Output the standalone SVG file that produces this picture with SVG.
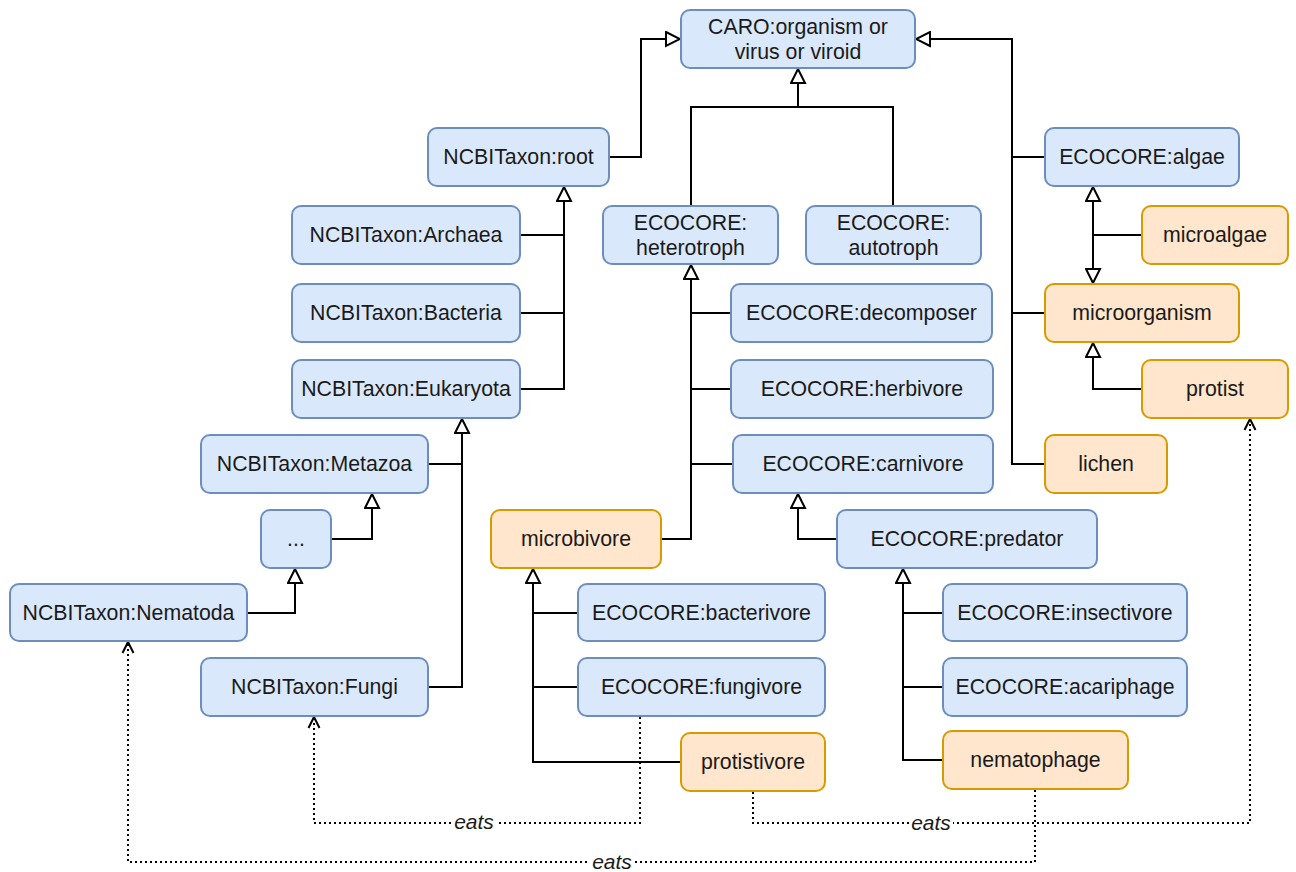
<svg xmlns="http://www.w3.org/2000/svg" width="1296" height="872" viewBox="0 0 1296 872">
<style>
.b{fill:#dae8fc;stroke:#6c8ebf;stroke-width:2}
.o{fill:#ffe6cc;stroke:#d79b00;stroke-width:2}
text{font-family:"Liberation Sans",Arial,sans-serif;font-size:21.3px;fill:#1a1a1a;text-anchor:middle}
.e{fill:none;stroke:#000;stroke-width:2}
.d{fill:none;stroke:#000;stroke-width:2;stroke-dasharray:2 3}
.lb{font-style:italic;font-size:21px}
</style>
<defs>
<marker id="tri" viewBox="0 0 17 17" refX="16" refY="8.5" markerWidth="17" markerHeight="17" markerUnits="userSpaceOnUse" orient="auto">
<path d="M2,1.5 L16,8.5 L2,15.5 Z" fill="#fff" stroke="#000" stroke-width="2"/>
</marker>
<marker id="opn" viewBox="0 0 14 14" refX="13" refY="7" markerWidth="14" markerHeight="14" markerUnits="userSpaceOnUse" orient="auto">
<path d="M2,1.5 L13,7 L2,12.5" fill="none" stroke="#000" stroke-width="2"/>
</marker>
</defs>
<g id="connectors">
<polyline class="e" points="609,157 641,157 641,39 680,39" marker-end="url(#tri)"/>
<polyline class="e" points="1045,157 1012,157 1012,39 916,39" marker-end="url(#tri)"/>
<polyline class="e" points="1045,313 1012,313 1012,157"/>
<polyline class="e" points="1045,464 1012,464 1012,313"/>
<polyline class="e" points="691,206 691,107 893,107 893,206"/>
<polyline class="e" points="798,107 798,69" marker-end="url(#tri)"/>
<polyline class="e" points="520,235 564,235 564,187" marker-end="url(#tri)"/>
<polyline class="e" points="520,313 564,313 564,235"/>
<polyline class="e" points="520,389 564,389 564,313"/>
<polyline class="e" points="428,464 462,464 462,419" marker-end="url(#tri)"/>
<polyline class="e" points="428,687 462,687 462,464"/>
<polyline class="e" points="331,539 372,539 372,494" marker-end="url(#tri)"/>
<polyline class="e" points="247,613 295,613 295,569" marker-end="url(#tri)"/>
<polyline class="e" points="731,313 691,313 691,265" marker-end="url(#tri)"/>
<polyline class="e" points="731,389 691,389 691,313"/>
<polyline class="e" points="733,464 691,464 691,389"/>
<polyline class="e" points="661,539 691,539 691,464"/>
<polyline class="e" points="837,539 798,539 798,494" marker-end="url(#tri)"/>
<polyline class="e" points="578,613 533,613 533,569" marker-end="url(#tri)"/>
<polyline class="e" points="578,687 533,687 533,613"/>
<polyline class="e" points="681,762 533,762 533,687"/>
<polyline class="e" points="943,613 903,613 903,569" marker-end="url(#tri)"/>
<polyline class="e" points="943,687 903,687 903,613"/>
<polyline class="e" points="943,760 903,760 903,687"/>
<polyline class="e" points="1142,235 1093,235 1093,187" marker-end="url(#tri)"/>
<polyline class="e" points="1093,235 1093,283" marker-end="url(#tri)"/>
<polyline class="e" points="1142,389 1093,389 1093,343" marker-end="url(#tri)"/>
<polyline class="d" points="640,717 640,823 314,823 314,717" marker-end="url(#opn)"/>
<polyline class="d" points="753,792 753,823 1250,823 1250,419" marker-end="url(#opn)"/>
<polyline class="d" points="1035,790 1035,862 128,862 128,642" marker-end="url(#opn)"/>
<rect x="452" y="812" width="44" height="20" fill="#fff"/>
<text class="lb" x="474" y="829">eats</text>
<rect x="909" y="812" width="44" height="20" fill="#fff"/>
<text class="lb" x="931" y="830">eats</text>
<rect x="590" y="851" width="44" height="20" fill="#fff"/>
<text class="lb" x="612" y="869">eats</text>
</g>
<g id="caro"><rect class="b" x="681" y="10" width="234" height="58" rx="9"/><text x="798" y="34">CARO:organism or</text><text x="798" y="59">virus or viroid</text></g>
<g id="root"><rect class="b" x="428" y="128" width="181" height="58" rx="9"/><text x="518.5" y="164">NCBITaxon:root</text></g>
<g id="archaea"><rect class="b" x="292" y="206" width="228" height="58" rx="9"/><text x="406" y="242">NCBITaxon:Archaea</text></g>
<g id="bacteria"><rect class="b" x="292" y="284" width="228" height="58" rx="9"/><text x="406" y="320">NCBITaxon:Bacteria</text></g>
<g id="eukaryota"><rect class="b" x="292" y="360" width="228" height="58" rx="9"/><text x="406" y="396">NCBITaxon:Eukaryota</text></g>
<g id="metazoa"><rect class="b" x="201" y="435" width="227" height="58" rx="9"/><text x="314.5" y="471">NCBITaxon:Metazoa</text></g>
<g id="dots"><rect class="b" x="261" y="510" width="70" height="58" rx="9"/><text x="296" y="546">...</text></g>
<g id="nematoda"><rect class="b" x="10" y="584" width="237" height="57" rx="9"/><text x="128.5" y="620">NCBITaxon:Nematoda</text></g>
<g id="fungi"><rect class="b" x="201" y="658" width="227" height="58" rx="9"/><text x="314.5" y="694">NCBITaxon:Fungi</text></g>
<g id="heterotroph"><rect class="b" x="603" y="206" width="175" height="58" rx="9"/><text x="690.5" y="230">ECOCORE:</text><text x="690.5" y="255">heterotroph</text></g>
<g id="autotroph"><rect class="b" x="806" y="206" width="175" height="58" rx="9"/><text x="893.5" y="230">ECOCORE:</text><text x="893.5" y="255">autotroph</text></g>
<g id="decomposer"><rect class="b" x="731" y="284" width="261" height="58" rx="9"/><text x="861.5" y="320">ECOCORE:decomposer</text></g>
<g id="herbivore"><rect class="b" x="731" y="360" width="262" height="58" rx="9"/><text x="862" y="396">ECOCORE:herbivore</text></g>
<g id="carnivore"><rect class="b" x="733" y="435" width="260" height="58" rx="9"/><text x="863" y="471">ECOCORE:carnivore</text></g>
<g id="microbivore"><rect class="o" x="491" y="510" width="170" height="58" rx="9"/><text x="576" y="546">microbivore</text></g>
<g id="predator"><rect class="b" x="837" y="510" width="260" height="58" rx="9"/><text x="967" y="546">ECOCORE:predator</text></g>
<g id="bacterivore"><rect class="b" x="578" y="584" width="247" height="57" rx="9"/><text x="701.5" y="620">ECOCORE:bacterivore</text></g>
<g id="fungivore"><rect class="b" x="578" y="658" width="247" height="58" rx="9"/><text x="701.5" y="694">ECOCORE:fungivore</text></g>
<g id="protistivore"><rect class="o" x="681" y="733" width="144" height="58" rx="9"/><text x="753" y="769">protistivore</text></g>
<g id="insectivore"><rect class="b" x="943" y="584" width="244" height="57" rx="9"/><text x="1065" y="620">ECOCORE:insectivore</text></g>
<g id="acariphage"><rect class="b" x="943" y="658" width="244" height="58" rx="9"/><text x="1065" y="694">ECOCORE:acariphage</text></g>
<g id="nematophage"><rect class="o" x="943" y="731" width="185" height="58" rx="9"/><text x="1035.5" y="767">nematophage</text></g>
<g id="algae"><rect class="b" x="1045" y="128" width="194" height="58" rx="9"/><text x="1142" y="164">ECOCORE:algae</text></g>
<g id="microalgae"><rect class="o" x="1142" y="206" width="146" height="58" rx="9"/><text x="1215" y="242">microalgae</text></g>
<g id="microorganism"><rect class="o" x="1045" y="284" width="194" height="58" rx="9"/><text x="1142" y="320">microorganism</text></g>
<g id="protist"><rect class="o" x="1142" y="360" width="146" height="58" rx="9"/><text x="1215" y="396">protist</text></g>
<g id="lichen"><rect class="o" x="1045" y="435" width="122" height="58" rx="9"/><text x="1106" y="471">lichen</text></g>
</svg>
